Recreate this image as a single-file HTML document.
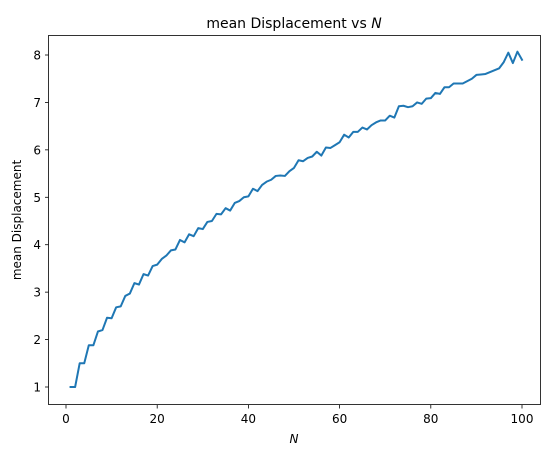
<!DOCTYPE html>
<html><head><meta charset="utf-8"><style>
html,body{margin:0;padding:0;background:#fff;}
svg text{font-family:"DejaVu Sans","Liberation Sans",sans-serif;fill:#000;}
</style></head><body>
<svg id="chart" width="554" height="457" xmlns="http://www.w3.org/2000/svg">
<rect x="0" y="0" width="554" height="457" fill="#fff"/>
<g id="ticks"></g>
<polyline id="line" fill="none" stroke="#1f77b4" stroke-width="2" stroke-linejoin="round" stroke-linecap="square"/>
<rect x="48.5" y="35.5" width="492" height="369" fill="none" stroke="#000" stroke-width="0.8"/>
<text x="294" y="28" font-size="14" text-anchor="middle">mean Displacement vs <tspan font-style="italic">N</tspan></text>
<text x="294" y="443" font-size="12" font-style="italic" text-anchor="middle">N</text>
<text transform="translate(21,220) rotate(-90)" font-size="12" text-anchor="middle">mean Displacement</text>
</svg>
<script>
const xTicks = [0,20,40,60,80,100];
const yTicks = [1,2,3,4,5,6,7,8];
const nValues = Array.from({length:100},(_,i)=>i+1);
const displacement = [1.0,1.0,1.5,1.5,1.88,1.88,2.17,2.2,2.46,2.45,2.68,2.7,2.92,2.97,3.19,3.16,3.38,3.35,3.55,3.58,3.7,3.77,3.88,3.9,4.1,4.05,4.22,4.18,4.35,4.33,4.48,4.5,4.65,4.64,4.77,4.72,4.88,4.92,5.0,5.02,5.18,5.13,5.26,5.33,5.37,5.45,5.46,5.45,5.55,5.62,5.78,5.76,5.83,5.86,5.96,5.88,6.05,6.04,6.1,6.16,6.32,6.26,6.38,6.38,6.47,6.43,6.52,6.58,6.62,6.62,6.72,6.68,6.92,6.93,6.9,6.92,7.0,6.97,7.08,7.09,7.2,7.18,7.32,7.32,7.4,7.4,7.4,7.45,7.5,7.58,7.59,7.6,7.64,7.68,7.72,7.85,8.05,7.83,8.07,7.9];
function xs(v){return 66 + (v-0)*(522-66)/100;}
function ys(v){return 387 - (v-1)*(387-55)/7;}
const NS='http://www.w3.org/2000/svg';
const g=document.getElementById('ticks');
xTicks.forEach(t=>{
  const l=document.createElementNS(NS,'line');
  l.setAttribute('x1',xs(t));l.setAttribute('x2',xs(t));l.setAttribute('y1',405);l.setAttribute('y2',408.5);l.setAttribute('stroke','#000');l.setAttribute('stroke-width','0.8');
  
  
  g.appendChild(l);
  const tx=document.createElementNS(NS,'text');
  tx.setAttribute('x',xs(t));tx.setAttribute('y',423);tx.setAttribute('font-size','12');tx.setAttribute('text-anchor','middle');tx.textContent=t;
  
  
  g.appendChild(tx);
});
yTicks.forEach(t=>{
  const l=document.createElementNS(NS,'line');
  l.setAttribute('x1',45);l.setAttribute('x2',48.5);l.setAttribute('y1',ys(t));l.setAttribute('y2',ys(t));l.setAttribute('stroke','#000');l.setAttribute('stroke-width','0.8');
  
  
  g.appendChild(l);
  const tx=document.createElementNS(NS,'text');
  tx.setAttribute('x',41);tx.setAttribute('y',ys(t)+4.5);tx.setAttribute('font-size','12');tx.setAttribute('text-anchor','end');tx.textContent=t;
  
  
  g.appendChild(tx);
});
document.getElementById('line').setAttribute('points',nValues.map((n,i)=>xs(n).toFixed(2)+','+ys(displacement[i]).toFixed(2)).join(' '));
</script>
</body></html>
